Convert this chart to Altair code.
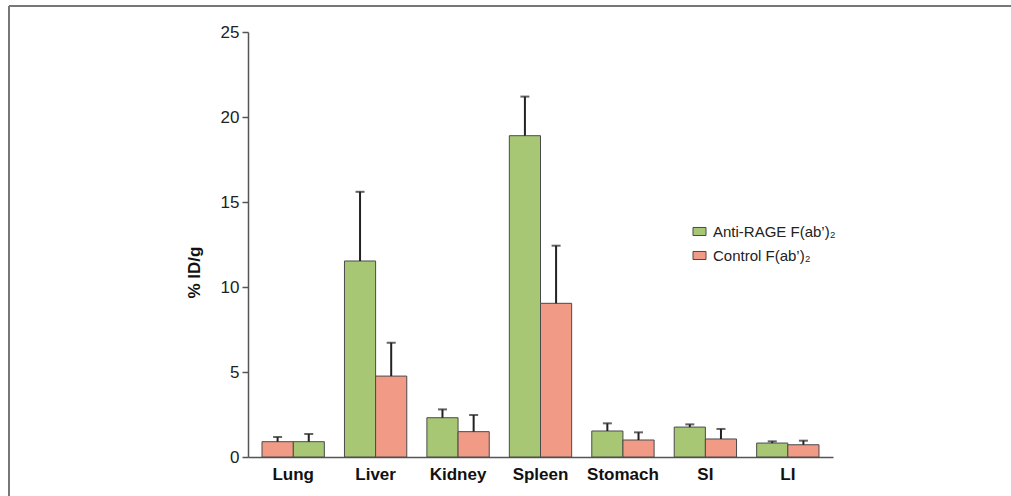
import altair as alt
import pandas as pd

# Biodistribution of F(ab')2 fragments, % injected dose per gram of tissue
organs = ["Lung", "Liver", "Kidney", "Spleen", "Stomach", "SI", "LI"]
anti_mean = [0.90, 11.53, 2.31, 18.90, 1.53, 1.76, 0.82]
anti_sd = [0.45, 4.07, 0.49, 2.30, 0.45, 0.16, 0.10]
ctrl_mean = [0.90, 4.76, 1.49, 9.04, 1.00, 1.06, 0.72]
ctrl_sd = [0.27, 1.96, 0.98, 3.39, 0.45, 0.59, 0.24]
series = ["Anti-RAGE F(ab\u2019)\u2082", "Control F(ab\u2019)\u2082"]
control_first = ["Lung"]  # groups where the control bar is drawn on the left
y_ticks = [0, 5, 10, 15, 20, 25]

rows = []
for i, organ in enumerate(organs):
    swap = organ in control_first
    for s, (means, sds) in enumerate([(anti_mean, anti_sd), (ctrl_mean, ctrl_sd)]):
        slot = (1 - s) if swap else s
        rows.append({
            "organ": organ,
            "series": series[s],
            "slot": slot,
            "value": means[i],
            "upper": means[i] + sds[i],
        })
df = pd.DataFrame(rows)

FONT = "Liberation Sans"
W, H = 585, 425

x_enc = alt.X(
    "organ:N",
    sort=organs,
    scale=alt.Scale(paddingInner=0.244, paddingOuter=0.17),
    axis=alt.Axis(
        title=None, labelAngle=0, ticks=False, labelPadding=9,
        labelFont=FONT, labelFontSize=17, labelFontWeight="bold",
        labelColor="#111111", domainColor="#555555", domainWidth=1.5,
    ),
)
x_off = alt.XOffset("slot:O", scale=alt.Scale(domain=[0, 1], paddingInner=0, paddingOuter=0))
y_scale = alt.Scale(domain=[0, 25], nice=False)

base = alt.Chart(df)

bars = base.mark_bar(stroke="#4a4a4a", strokeWidth=1).encode(
    x=x_enc,
    xOffset=x_off,
    y=alt.Y(
        "value:Q",
        scale=y_scale,
        axis=alt.Axis(
            title="% ID/g", values=y_ticks, grid=False, tickSize=6,
            labelPadding=3, labelFont=FONT, labelFontSize=17,
            labelColor="#222222", tickColor="#555555", tickWidth=1.5,
            domainColor="#555555", domainWidth=1.5,
            titleFont=FONT, titleFontSize=17, titleFontWeight="bold",
            titleColor="#111111", titlePadding=17, titleY=240,
        ),
    ),
    fill=alt.Fill(
        "series:N",
        scale=alt.Scale(domain=series, range=["#a8c774", "#f19b86"]),
        legend=alt.Legend(
            title=None, orient="none", legendX=444, legendY=192,
            labelFont=FONT, labelFontSize=15, labelColor="#222222",
            symbolType="M-1,-0.62H1V0.62H-1Z", symbolSize=169,
            symbolStrokeColor="#4a4a4a", symbolStrokeWidth=1,
            rowPadding=8, labelOffset=6,
        ),
    ),
)

err_line = base.mark_rule(color="#222222", strokeWidth=2).encode(
    x=alt.X("organ:N", sort=organs),
    xOffset=x_off,
    y=alt.Y("value:Q", scale=y_scale),
    y2="upper:Q",
)

err_cap = base.mark_tick(color="#222222", thickness=2, size=9).encode(
    x=alt.X("organ:N", sort=organs),
    xOffset=x_off,
    y=alt.Y("upper:Q", scale=y_scale),
)

# thin frame around the figure (top and left edges)
frame_src = alt.Chart(pd.DataFrame({"k": [0]}))
frame_top = frame_src.mark_rule(color="#777777", strokeWidth=2).encode(
    x=alt.value(-239), x2=alt.value(780), y=alt.value(-26)
)
frame_left = frame_src.mark_rule(color="#777777", strokeWidth=2).encode(
    x=alt.value(-239), y=alt.value(-26), y2=alt.value(480)
)

chart = (
    alt.layer(bars, err_line, err_cap, frame_top, frame_left)
    .properties(
        width=W, height=H,
        autosize=alt.AutoSizeParams(type="none"),
        padding={"left": 248, "top": 32, "right": 1011 - 248 - W, "bottom": 496 - 32 - H},
        background="white",
    )
    .configure_view(strokeWidth=0)
)

chart.save("out.html", embed_options={"renderer": "svg", "actions": False})
